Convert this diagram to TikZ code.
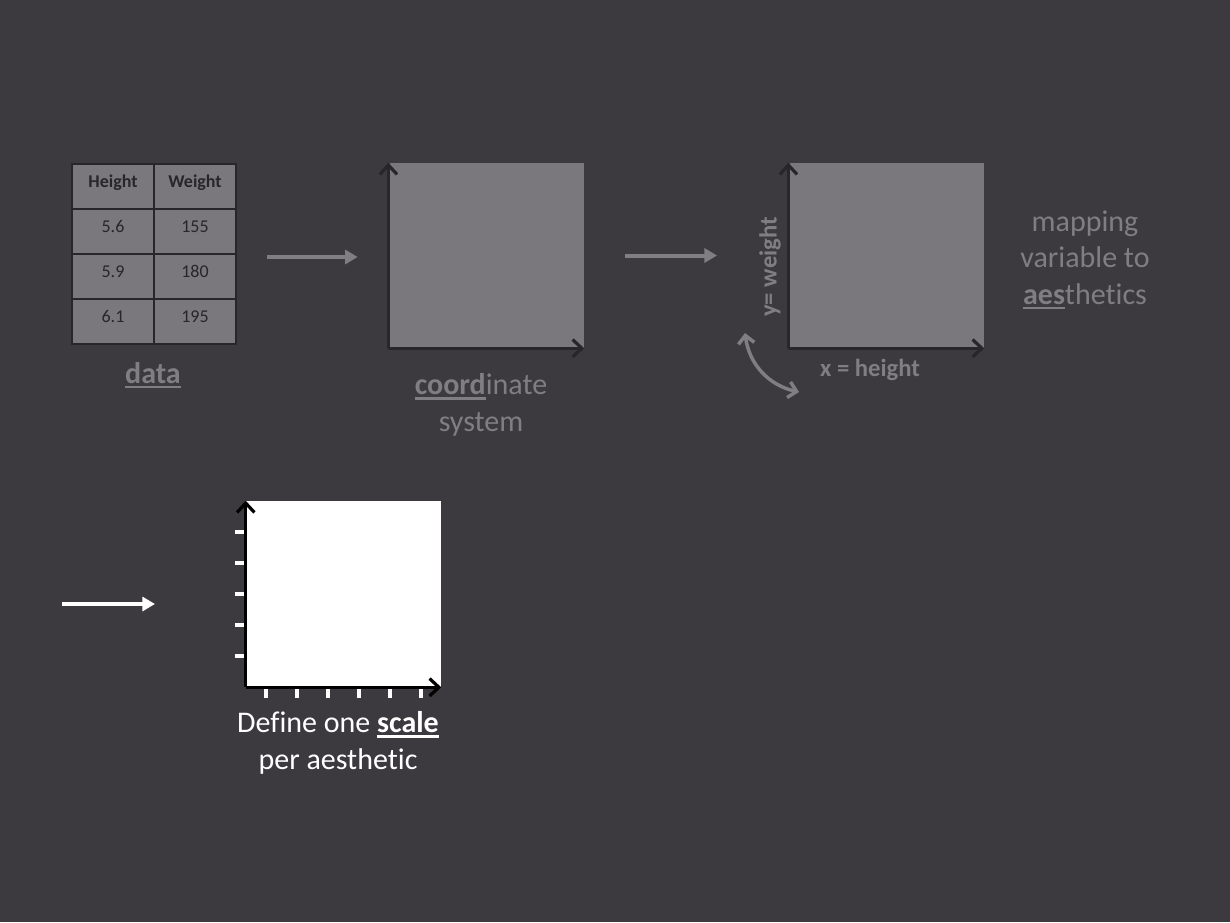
\documentclass[tikz,border=0pt]{standalone}
\usepackage{fontspec}
\setmainfont{Carlito}[Ligatures=NoCommon]
\usetikzlibrary{arrows.meta,positioning}

\definecolor{slide}{RGB}{60,57,63}
\definecolor{panel}{RGB}{122,120,124}
\definecolor{faded}{RGB}{128,126,131}
\definecolor{ink}{RGB}{40,38,42}

% bold word with a thick underline
\newcommand{\ulkey}[1]{\leavevmode\setbox0\hbox{\bfseries #1}\rlap{\rule[-3.6pt]{\wd0}{1.6pt}}\box0}

\begin{document}
\begin{tikzpicture}[>=Stealth,x=0.75pt,y=-0.75pt,
    cell/.style={draw=ink,fill=panel,line width=1.5pt,minimum width=61.5pt,minimum height=33.75pt,inner sep=0pt,
        text height=9pt,text depth=7.2pt,text=ink,font=\fontsize{13.5}{16}\selectfont},
    plotbox/.style={fill=panel,minimum width=145.5pt,minimum height=138.75pt,inner sep=0pt},
    axis/.style={ink,line width=2.4pt,-{Straight Barb[length=7pt,width=13pt]}},
    flow/.style={faded,line width=3pt,-{Triangle[length=9.5pt,width=10.5pt]}},
    caption/.style={align=center,text=faded,font=\fontsize{22.5}{27.5}\selectfont},
    axlabel/.style={text=faded,font=\fontsize{18.5}{22}\selectfont\bfseries},
    tick/.style={white,line width=2.4pt}]

    % Slide background
    \fill [slide] (0,0) rectangle (1230,922);
    \useasboundingbox (0,0) rectangle (1230,922);

    % Data table
    \node [cell,font=\fontsize{13.5}{16}\selectfont\bfseries] (h0) at (113,186.5) {Height};
    \node [cell,font=\fontsize{13.5}{16}\selectfont\bfseries] (w0) at (195,186.5) {Weight};
    \foreach \hv/\wv [count=\r] in {5.6/155,5.9/180,6.1/195} {
        \node [cell] (h\r) at (113,186.5+45*\r) {\hv};
        \node [cell] (w\r) at (195,186.5+45*\r) {\wv};
    }
    \node [caption] (datalabel) at (153,375) {\ulkey{data}};

    % Coordinate system
    \node [plotbox] (coordbox) at (487,255.5) {};
    \draw [axis] ([xshift=-1pt]coordbox.south west) -- ([xshift=-1pt]coordbox.north west);
    \draw [axis] ([xshift=-1pt]coordbox.south west) -- (coordbox.south east);
    \node [caption] (coordlabel) at (481,405) {\ulkey{coord}inate\\system};

    % Aesthetic mapping
    \node [plotbox] (aesbox) at (887,255.5) {};
    \draw [axis] ([xshift=-1pt]aesbox.south west) -- ([xshift=-1pt]aesbox.north west);
    \draw [axis] ([xshift=-1pt]aesbox.south west) -- (aesbox.south east);
    \node [axlabel,rotate=90] (ylabel) at (770,267) {y= weight};
    \node [axlabel] (xlabel) at (870,370) {x = height};
    \node [caption] (aeslabel) at (1085,260) {mapping\\variable to\\\ulkey{aes}thetics};
    \coordinate (swapa) at (745,333);
    \coordinate (swapb) at (799,392);
    \draw [faded,line width=2.6pt,{Straight Barb[length=6pt,width=12pt]}-{Straight Barb[length=6pt,width=12pt]}]
        (swapa) to [bend right=35] (swapb);

    % Flow arrows
    \draw [flow,shorten <=22.5pt,shorten >=24pt] ([yshift=-1.5pt]w1.south east) -- ([yshift=-1.5pt]w1.south east -| coordbox.west);
    \draw [flow,shorten <=30.5pt,shorten >=54.5pt] (coordbox.east) -- (aesbox.west);

    % Scales
    \coordinate (scalefrom) at (62,604);
    \coordinate (scaleto) at (155,604);
    \draw [white,line width=3pt,-{Triangle[length=9.5pt,width=10.5pt]}] (scalefrom) -- (scaleto);
    \node [plotbox,fill=white,minimum width=146.25pt,minimum height=139.5pt] (scalebox) at (343.5,594) {};
    \foreach \t in {1,...,5}
        \draw [tick] (235,501+31*\t) -- (246,501+31*\t);
    \foreach \t in {0,...,5}
        \draw [tick] (266+31*\t,687) -- (266+31*\t,698);
    \draw [axis,black] (scalebox.south west) -- (scalebox.north west);
    \draw [axis,black] (scalebox.south west) -- (scalebox.south east);
    \node [caption,text=white] (scalelabel) at (338,743) {Define one \ulkey{scale}\\per aesthetic};

\end{tikzpicture}
\end{document}
